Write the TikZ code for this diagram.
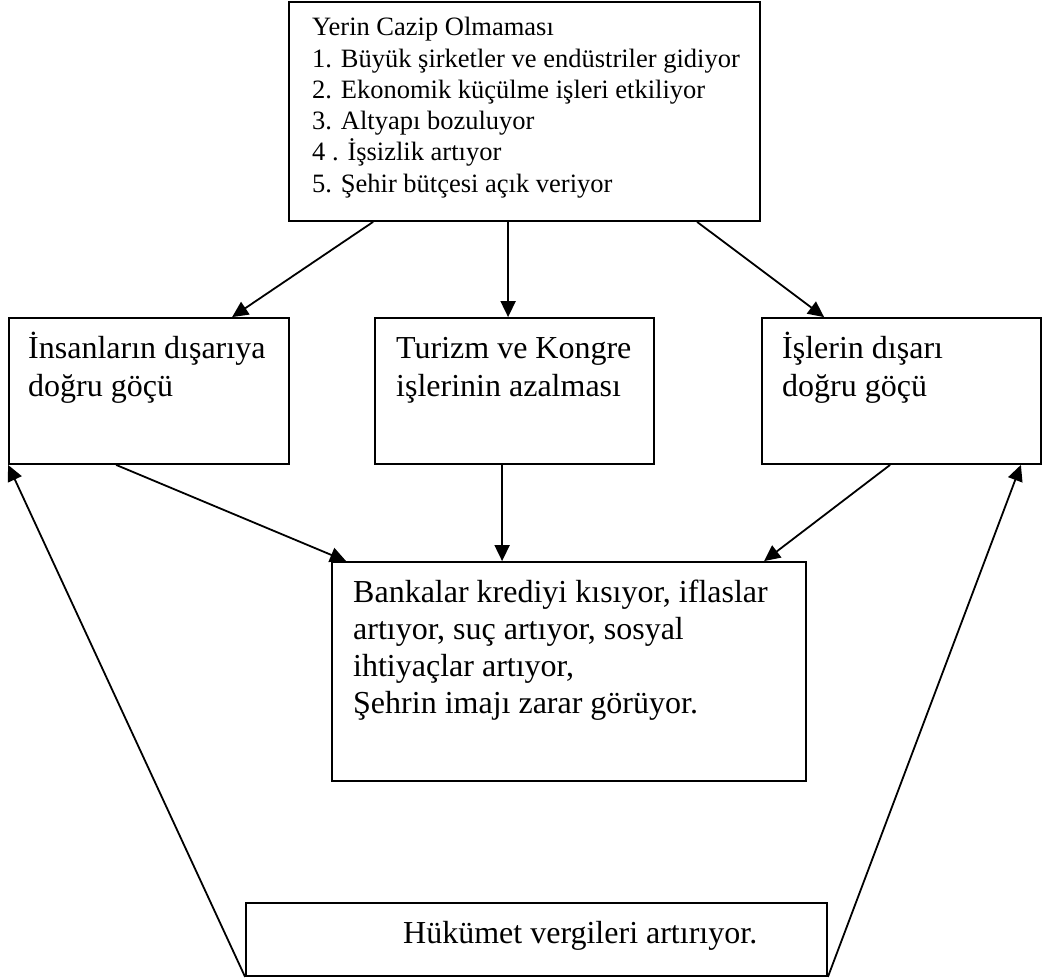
\documentclass[tikz,border=0pt]{standalone}
\usepackage{fontspec}
\setmainfont{Liberation Serif}
\usetikzlibrary{arrows.meta,calc}

\tikzset{
  box/.style={draw, line width=1.8pt, rectangle, inner sep=0pt},
  link/.style={line width=1.8pt, -{Triangle[length=16pt,width=15pt]}},
  small/.style={anchor=base west, inner sep=0pt, font=\fontsize{26.5pt}{31pt}\selectfont},
  big/.style={anchor=base west, inner sep=0pt, font=\fontsize{32pt}{37pt}\selectfont},
}

\begin{document}
\begin{tikzpicture}[x=1pt, y=-1pt]
\useasboundingbox (0,0) rectangle (1048,979);

% boxes
\node[box, minimum width=471pt, minimum height=219pt] (top)    at (524.5,111.5) {};
\node[box, minimum width=280pt, minimum height=146pt] (left)   at (149,391) {};
\node[box, minimum width=279pt, minimum height=146pt] (mid)    at (514.5,391) {};
\node[box, minimum width=279pt, minimum height=146pt] (right)  at (901.5,391) {};
\node[box, minimum width=474pt, minimum height=219pt] (center) at (569,671.5) {};
\node[box, minimum width=581pt, minimum height=73pt]  (bottom) at (536.5,939.5) {};

% text of the top box
\foreach \t [count=\i from 0] in {Yerin Cazip Olmaması,
    1. Büyük şirketler ve endüstriler gidiyor,
    2. Ekonomik küçülme işleri etkiliyor,
    3. Altyapı bozuluyor,
    4 . İşsizlik artıyor,
    5. Şehir bütçesi açık veriyor}
  \node[small] (t\i) at (312,36+31.2*\i) {\t};

% text of the middle row
\node[big] (l1) at (28,358) {İnsanların dışarıya};
\node[big] (l2) at (28,396) {doğru göçü};
\node[big] (m1) at (396,358) {Turizm ve Kongre};
\node[big] (m2) at (396,396) {işlerinin azalması};
\node[big] (r1) at (782,358) {İşlerin dışarı};
\node[big] (r2) at (782,396) {doğru göçü};

% text of the centre box
\node[big] (c1) at (353,602) {Bankalar krediyi kısıyor, iflaslar};
\node[big] (c2) at (353,639) {artıyor, suç artıyor, sosyal};
\node[big] (c3) at (353,676) {ihtiyaçlar artıyor,};
\node[big] (c4) at (353,713) {Şehrin imajı zarar görüyor.};

% text of the bottom box
\node[big] (b1) at (403,943) {Hükümet vergileri artırıyor.};

% connectors
\draw[link] ($(top.south west)+(85,0)$)   -- ($(left.north west)+(224,0)$);
\draw[link] ($(top.south west)+(220,0)$)  -- ($(mid.north west)+(134,0)$);
\draw[link] ($(top.south west)+(409,0)$)  -- ($(right.north west)+(63,0)$);
\draw[link] ($(left.south west)+(108,0)$) -- ($(center.north west)+(15,0)$);
\draw[link] ($(mid.south west)+(128,0)$)  -- ($(center.north west)+(171,0)$);
\draw[link] ($(right.south west)+(129,0)$) -- ($(center.north west)+(433,0)$);
\draw[link] (bottom.south west) -- (left.south west);
\draw[link] (bottom.south east) -- ($(right.south east)+(-21,0)$);
\end{tikzpicture}
\end{document}
